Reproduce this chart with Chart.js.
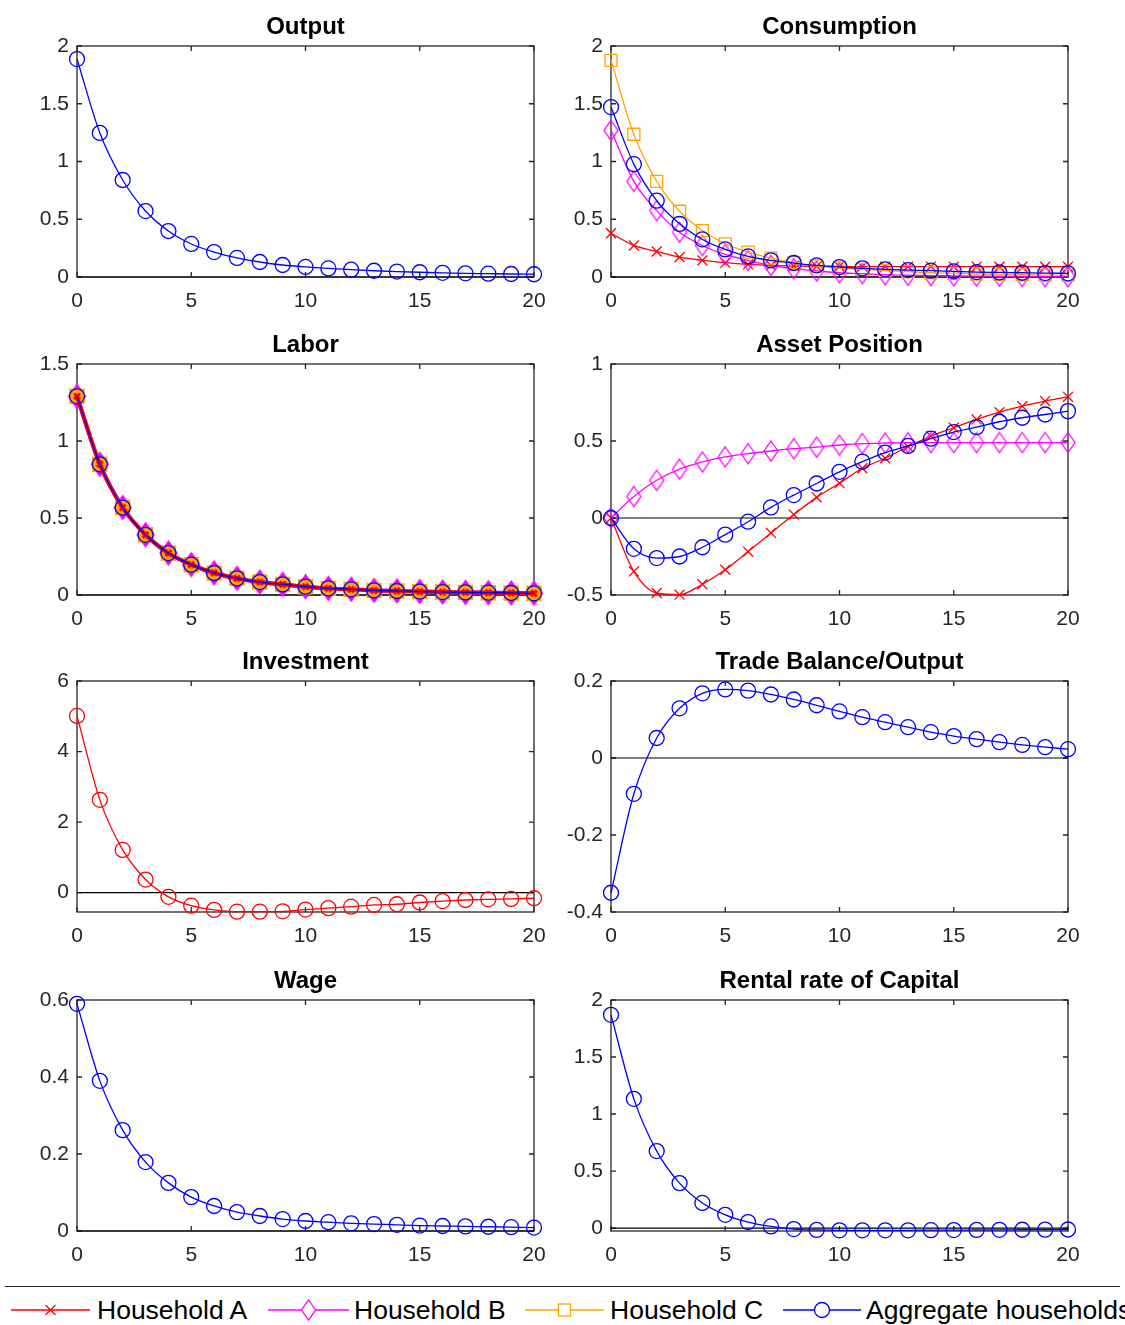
<!DOCTYPE html>
<html>
<head>
<meta charset="utf-8">
<script src="https://cdn.jsdelivr.net/npm/chart.js@4/dist/chart.umd.min.js"></script>
<style>
  body { margin: 0; background: #fff; }
  #page { position: relative; width: 1125px; height: 1325px; overflow: hidden; font-family: "Liberation Sans", Arial, sans-serif; }
  .panel { position: absolute; width: 560px; height: 318px; }
  #legendBox { position: absolute; left: 5px; top: 1286px; width: 1115px; height: 60px; border-top: 1.5px solid #262626; }
  .lg { position: absolute; top: 1296px; font-size: 26.5px; line-height: 28px; color: #000; white-space: nowrap; }
  svg.lgm { position: absolute; top: 1298px; }
</style>
</head>
<body>
<div id="page">
  <div id="legendBox"></div>
</div>
<script>
// horizon (periods after the shock)
const periods = [0,1,2,3,4,5,6,7,8,9,10,11,12,13,14,15,16,17,18,19,20];
const xTicks = [0,5,10,15,20];

const outputAgg = [1.887,1.247,0.840,0.571,0.398,0.286,0.216,0.165,0.130,0.104,0.087,0.074,0.063,0.054,0.047,0.041,0.036,0.032,0.029,0.026,0.024];

const consA   = [0.379,0.273,0.221,0.172,0.144,0.124,0.109,0.100,0.095,0.092,0.091,0.090,0.090,0.090,0.090,0.090,0.090,0.089,0.089,0.089,0.089];
const consB   = [1.270,0.828,0.575,0.388,0.273,0.195,0.144,0.100,0.072,0.052,0.037,0.029,0.020,0.015,0.012,0.010,0.008,0.006,0.005,0.004,0.003];
const consC   = [1.876,1.236,0.828,0.569,0.402,0.287,0.216,0.164,0.124,0.095,0.078,0.066,0.055,0.046,0.037,0.032,0.026,0.023,0.020,0.017,0.014];
const consAgg = [1.471,0.977,0.661,0.460,0.325,0.239,0.178,0.144,0.121,0.100,0.086,0.075,0.066,0.060,0.055,0.049,0.043,0.040,0.037,0.034,0.032];

const laborA   = [1.290,0.849,0.568,0.391,0.272,0.197,0.143,0.108,0.084,0.069,0.054,0.043,0.037,0.030,0.026,0.022,0.019,0.017,0.015,0.013,0.011];
const laborB   = [1.290,0.849,0.568,0.391,0.272,0.197,0.143,0.108,0.084,0.069,0.054,0.043,0.037,0.030,0.026,0.022,0.019,0.017,0.015,0.013,0.011];
const laborC   = [1.290,0.849,0.568,0.391,0.272,0.197,0.143,0.108,0.084,0.069,0.054,0.043,0.037,0.030,0.026,0.022,0.019,0.017,0.015,0.013,0.011];
const laborAgg = [1.290,0.849,0.568,0.391,0.272,0.197,0.143,0.108,0.084,0.069,0.054,0.043,0.037,0.030,0.026,0.022,0.019,0.017,0.015,0.013,0.011];

const assetA   = [0,-0.347,-0.487,-0.498,-0.430,-0.336,-0.218,-0.097,0.022,0.134,0.226,0.323,0.388,0.463,0.532,0.586,0.640,0.687,0.726,0.759,0.787];
const assetB   = [0,0.140,0.245,0.317,0.364,0.397,0.418,0.435,0.450,0.460,0.474,0.483,0.487,0.489,0.490,0.490,0.490,0.490,0.490,0.490,0.490];
const assetAgg = [0,-0.200,-0.260,-0.250,-0.190,-0.108,-0.024,0.069,0.149,0.224,0.300,0.366,0.425,0.468,0.515,0.558,0.590,0.625,0.651,0.672,0.694];

const investAgg = [5.01,2.63,1.21,0.37,-0.12,-0.37,-0.49,-0.54,-0.54,-0.53,-0.48,-0.44,-0.40,-0.35,-0.33,-0.28,-0.24,-0.21,-0.19,-0.18,-0.16];

const tradeAgg = [-0.350,-0.093,0.052,0.129,0.168,0.178,0.175,0.165,0.152,0.137,0.121,0.106,0.093,0.080,0.067,0.057,0.049,0.041,0.034,0.028,0.023];

const wageAgg = [0.590,0.390,0.262,0.179,0.125,0.088,0.065,0.049,0.039,0.031,0.026,0.023,0.020,0.018,0.016,0.014,0.013,0.012,0.011,0.010,0.009];

const rentalAgg = [1.870,1.133,0.675,0.394,0.220,0.116,0.052,0.014,-0.009,-0.017,-0.020,-0.020,-0.020,-0.020,-0.019,-0.018,-0.017,-0.016,-0.015,-0.014,-0.013];

const legendNames = ['Household A', 'Household B', 'Household C', 'Aggregate households'];

const RED = '#ff0000', MAG = '#ff00ff', ORA = '#ffa500', BLUE = '#0000ff', AXIS = '#262626';

Chart.defaults.font.family = '"Liberation Sans", Arial, sans-serif';
Chart.defaults.animation = false;

// tall matlab-style diamond marker
function diamondMarker(color, w, h, fill) {
    const c = document.createElement('canvas');
    c.width = w + 4; c.height = h + 4;
    const g = c.getContext('2d');
    g.beginPath();
    g.moveTo(c.width / 2, 2);
    g.lineTo(c.width - 2, c.height / 2);
    g.lineTo(c.width / 2, c.height - 2);
    g.lineTo(2, c.height / 2);
    g.closePath();
    if (fill) { g.fillStyle = color; g.fill(); }
    g.strokeStyle = color; g.lineWidth = 1.3; g.stroke();
    return c;
}

function series(values, color, style, extra) {
    return Object.assign({
        data: periods.map((p, i) => ({x: p, y: values[i]})),
        borderColor: color,
        backgroundColor: 'transparent',
        borderWidth: 1.3,
        pointStyle: style,
        pointRadius: 7.5,
        pointBorderColor: color,
        pointBackgroundColor: 'transparent',
        pointBorderWidth: 1.3,
        cubicInterpolationMode: 'monotone',
        clip: false
    }, extra || {});
}

const hhA = v => series(v, RED, 'crossRot', {pointRadius: 7, order: 3});
const hhB = v => series(v, MAG, diamondMarker(MAG, 14, 20, false), {order: 2});
const hhC = v => series(v, ORA, 'rect', {pointRadius: 8.5, order: 1});
const agg = (v, color) => series(v, color || BLUE, 'circle', {order: 0});

const matlabAxes = {
    id: 'matlabAxes',
    beforeDatasetsDraw(chart) {
        const {ctx, chartArea: a, scales: {x, y}} = chart;
        ctx.save();
        ctx.strokeStyle = AXIS;
        ctx.lineWidth = 1.3;
        ctx.strokeRect(a.left, a.top, a.right - a.left, a.bottom - a.top);
        ctx.beginPath();
        xTicks.forEach(v => {
            const px = x.getPixelForValue(v);
            ctx.moveTo(px, a.bottom); ctx.lineTo(px, a.bottom - 5);
            ctx.moveTo(px, a.top); ctx.lineTo(px, a.top + 5);
        });
        y.ticks.forEach(t => {
            const py = y.getPixelForValue(t.value);
            ctx.moveTo(a.left, py); ctx.lineTo(a.left + 5, py);
            ctx.moveTo(a.right, py); ctx.lineTo(a.right - 5, py);
        });
        ctx.stroke();
        if (y.min <= 0 && y.max >= 0) {
            const z = y.getPixelForValue(0);
            ctx.strokeStyle = '#000';
            ctx.lineWidth = 1.2;
            ctx.beginPath();
            ctx.moveTo(a.left, z); ctx.lineTo(a.right, z);
            ctx.stroke();
        }
        ctx.restore();
    },
    afterDraw(chart, args, opts) {
        const {ctx, chartArea: a} = chart;
        ctx.save();
        ctx.fillStyle = '#000';
        ctx.font = 'bold 24px "Liberation Sans", Arial, sans-serif';
        ctx.textAlign = 'center';
        ctx.textBaseline = 'alphabetic';
        ctx.fillText(opts.title, (a.left + a.right) / 2, a.top - 12);
        ctx.restore();
    }
};

const panels = [
    {title: 'Output', col: 0, row: 0, yMin: 0, yMax: 2, yTicks: [0,0.5,1,1.5,2], datasets: [agg(outputAgg)]},
    {title: 'Consumption', col: 1, row: 0, yMin: 0, yMax: 2, yTicks: [0,0.5,1,1.5,2],
        datasets: [hhA(consA), hhB(consB), hhC(consC), agg(consAgg)]},
    {title: 'Labor', col: 0, row: 1, yMin: 0, yMax: 1.5, yTicks: [0,0.5,1,1.5],
        datasets: [
            series(laborA, RED, 'crossRot', {borderWidth: 4, pointRadius: 4, pointBorderWidth: 3, order: 1}),
            series(laborB, MAG, diamondMarker(MAG, 17, 24, true), {borderWidth: 4, order: 3}),
            series(laborC, ORA, 'rect', {borderWidth: 3, pointRadius: 10, pointBackgroundColor: ORA, order: 2}),
            series(laborAgg, BLUE, 'circle', {pointRadius: 7.5, order: 0})
        ]},
    {title: 'Asset Position', col: 1, row: 1, yMin: -0.5, yMax: 1, yTicks: [-0.5,0,0.5,1],
        datasets: [hhA(assetA), hhB(assetB), agg(assetAgg)]},
    {title: 'Investment', col: 0, row: 2, yMin: -0.55, yMax: 6, yTicks: [0,2,4,6], datasets: [agg(investAgg, RED)]},
    {title: 'Trade Balance/Output', col: 1, row: 2, yMin: -0.4, yMax: 0.2, yTicks: [-0.4,-0.2,0,0.2], datasets: [agg(tradeAgg)]},
    {title: 'Wage', col: 0, row: 3, yMin: 0, yMax: 0.6, yTicks: [0,0.2,0.4,0.6], datasets: [agg(wageAgg)]},
    {title: 'Rental rate of Capital', col: 1, row: 3, yMin: -0.026, yMax: 2, yTicks: [0,0.5,1,1.5,2], datasets: [agg(rentalAgg)]}
];

const page = document.getElementById('page');
const tickFont = {size: 21};

panels.forEach(p => {
    const div = document.createElement('div');
    div.className = 'panel';
    div.style.left = (p.col * 534) + 'px';
    div.style.top = (p.row * 318 - (p.row === 2 ? 1 : 0)) + 'px';
    const canvas = document.createElement('canvas');
    canvas.width = 560; canvas.height = 318;
    div.appendChild(canvas);
    page.appendChild(div);

    new Chart(canvas.getContext('2d'), {
        type: 'line',
        data: {datasets: p.datasets},
        options: {
            responsive: false,
            layout: {padding: {top: 46, right: 26, left: 0, bottom: 0}},
            plugins: {
                legend: {display: false},
                tooltip: {enabled: false},
                matlabAxes: {title: p.title}
            },
            scales: {
                x: {
                    type: 'linear', min: 0, max: 20,
                    grid: {display: false, drawTicks: false},
                    border: {display: false},
                    afterBuildTicks: s => { s.ticks = xTicks.map(v => ({value: v})); },
                    afterFit: s => { s.height = 41; },
                    ticks: {color: AXIS, font: tickFont, padding: 12, maxRotation: 0,
                        callback: v => String(v)}
                },
                y: {
                    type: 'linear', min: p.yMin, max: p.yMax,
                    grid: {display: false, drawTicks: false},
                    border: {display: false},
                    afterBuildTicks: s => { s.ticks = p.yTicks.map(v => ({value: v})); },
                    afterFit: s => { s.width = 77; },
                    ticks: {color: AXIS, font: tickFont, padding: 8,
                        callback: v => String(+v.toFixed(2))}
                }
            }
        },
        plugins: [matlabAxes]
    });
});

// legend strip along the bottom
const legendItems = [
    {name: legendNames[0], color: RED, marker: 'x', x1: 11, x2: 90, text: 97},
    {name: legendNames[1], color: MAG, marker: 'd', x1: 268, x2: 349, text: 354},
    {name: legendNames[2], color: ORA, marker: 's', x1: 525, x2: 604, text: 610},
    {name: legendNames[3], color: BLUE, marker: 'o', x1: 783, x2: 861, text: 866}
];
legendItems.forEach(it => {
    const w = it.x2 - it.x1, cx = w / 2;
    let m = '';
    if (it.marker === 'x') m = `<path d="M${cx-5} 7 L${cx+5} 17 M${cx-5} 17 L${cx+5} 7" stroke="${it.color}" stroke-width="1.3"/>`;
    if (it.marker === 'd') m = `<path d="M${cx} 2 L${cx+7} 12 L${cx} 22 L${cx-7} 12 Z" fill="#fff" stroke="${it.color}" stroke-width="1.3"/>`;
    if (it.marker === 's') m = `<rect x="${cx-6}" y="6" width="12" height="12" fill="#fff" stroke="${it.color}" stroke-width="1.3"/>`;
    if (it.marker === 'o') m = `<circle cx="${cx}" cy="12" r="7.5" fill="#fff" stroke="${it.color}" stroke-width="1.3"/>`;
    const svg = `<svg class="lgm" style="left:${it.x1}px" width="${w}" height="24">` +
        `<line x1="0" y1="12" x2="${w}" y2="12" stroke="${it.color}" stroke-width="1.3"/>${m}</svg>`;
    page.insertAdjacentHTML('beforeend', svg);
    const span = document.createElement('span');
    span.className = 'lg';
    span.style.left = it.text + 'px';
    span.textContent = it.name;
    page.appendChild(span);
});
</script>
</body>
</html>
